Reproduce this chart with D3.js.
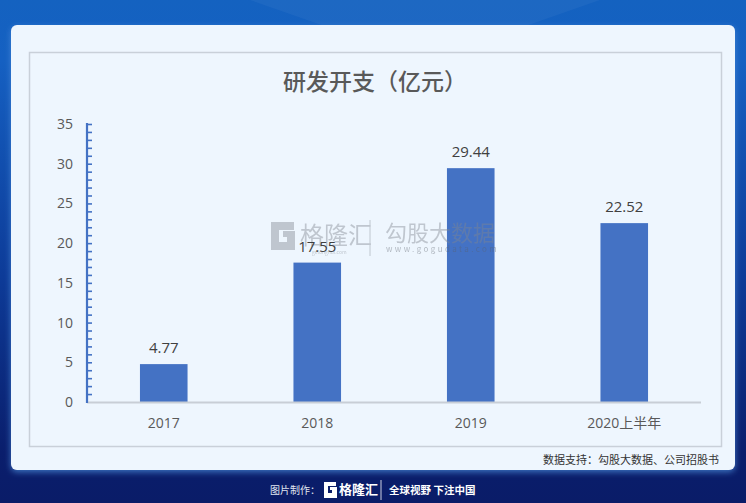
<!DOCTYPE html>
<html><head><meta charset="utf-8">
<script src="https://cdn.jsdelivr.net/npm/d3@7/dist/d3.min.js"></script>
<style>
html,body{margin:0;padding:0;overflow:hidden;background:#0b2a80;}
svg{display:block;font-family:"Noto Sans CJK SC","Noto Sans",sans-serif;}
</style></head>
<body>
<script>
const categories = ["2017", "2018", "2019", "2020上半年"];
const values = [4.77, 17.55, 29.44, 22.52];
const valueLabels = ["4.77", "17.55", "29.44", "22.52"];
const yTicks = [0, 5, 10, 15, 20, 25, 30, 35];
const titleText = "研发开支（亿元）";
const sourceText = "数据支持：勾股大数据、公司招股书";

const W = 746, H = 503;
const svg = d3.select("body").append("svg").attr("width", W).attr("height", H);
const defs = svg.append("defs");

const bg = defs.append("linearGradient").attr("id","bg").attr("x1",0).attr("y1",0).attr("x2",0).attr("y2",1);
bg.append("stop").attr("offset","0%").attr("stop-color","#1462c0");
bg.append("stop").attr("offset","12%").attr("stop-color","#1560c2");
bg.append("stop").attr("offset","55%").attr("stop-color","#0d3b98");
bg.append("stop").attr("offset","90%").attr("stop-color","#0a1e6c");
bg.append("stop").attr("offset","100%").attr("stop-color","#0a1c68");
svg.append("rect").attr("width",W).attr("height",H).attr("fill","url(#bg)");

svg.append("path").attr("d","M250,0 L330,28 L520,28 L600,0 Z").attr("fill","#ffffff").attr("opacity",0.04);

const sh = defs.append("filter").attr("id","sh").attr("x","-5%").attr("y","-5%").attr("width","110%").attr("height","115%");
sh.append("feDropShadow").attr("dx",0).attr("dy",2).attr("stdDeviation",3).attr("flood-color","#4b8ad8").attr("flood-opacity",0.8);

// card
svg.append("rect").attr("x",11).attr("y",25).attr("width",724).attr("height",445).attr("rx",6)
  .attr("fill","#eef6fe").attr("filter","url(#sh)");
// inner frame
svg.append("rect").attr("x",29.5).attr("y",52.5).attr("width",692).attr("height",394)
  .attr("fill","#eef6fe").attr("stroke","#c9d0d9").attr("stroke-width",1.5);

// title
svg.append("text").attr("x",375).attr("y",90).attr("text-anchor","middle")
  .attr("font-size",23).attr("font-weight",500).attr("fill","#595959").text(titleText);

const margin = {left:87, right:701, top:124, bottom:402};
const x = d3.scaleBand().domain(categories).range([margin.left, margin.right]).paddingInner(0.69).paddingOuter(0.345);
const y = d3.scaleLinear().domain([0,35]).range([margin.bottom, margin.top]);

// bars
svg.append("g").selectAll("rect").data(values).join("rect")
  .attr("x",(d,i)=>x(categories[i])).attr("width",x.bandwidth())
  .attr("y",d=>y(d)).attr("height",d=>y(0)-y(d)).attr("fill","#4472c4");

// x axis line
svg.append("line").attr("x1",margin.left).attr("x2",margin.right).attr("y1",y(0)+0.5).attr("y2",y(0)+0.5)
  .attr("stroke","#c8ced6").attr("stroke-width",1.8);

// watermark (semi-transparent, above bars)
const wm = svg.append("g").attr("opacity",0.42);
const wc = "#80868f";
wm.append("path").attr("d","M271,222 h23 v8 h-15 v12 h8 v-5 h-4 v-6 h12 v19 h-24 z").attr("fill",wc);
wm.append("text").attr("x",300).attr("y",244).attr("font-size",24).attr("fill",wc).text("格隆汇");
wm.append("text").attr("x",312).attr("y",254).attr("font-size",5).attr("fill",wc).text("gelonghui.com");
wm.append("line").attr("x1",370).attr("x2",370).attr("y1",220).attr("y2",256).attr("stroke",wc).attr("stroke-width",1);
wm.append("text").attr("x",385).attr("y",241).attr("font-size",22).attr("fill",wc).text("勾股大数据");
wm.append("text").attr("x",386).attr("y",252).attr("font-size",8).attr("letter-spacing",2.4).attr("fill","#5a6069").text("www.gogudata.com");

// value labels
svg.append("g").selectAll("text").data(values).join("text")
  .attr("x",(d,i)=>x(categories[i])+x.bandwidth()/2).attr("y",d=>y(d)-11)
  .attr("text-anchor","middle").attr("font-size",15).attr("fill","#404040")
  .attr("font-family","'Open Sans','Noto Sans',sans-serif")
  .text((d,i)=>valueLabels[i]);

// x labels
const xa = svg.append("g").attr("transform",`translate(0,${y(0)})`)
  .call(d3.axisBottom(x).tickSize(0).tickPadding(16));
xa.select(".domain").remove();
xa.selectAll("text").attr("font-size",14).attr("fill","#595959")
  .attr("font-family","'Open Sans','Noto Sans CJK SC',sans-serif");

// y axis: minor ticks every 1 unit
const ya = svg.append("g").attr("transform",`translate(${margin.left},0)`)
  .call(d3.axisRight(y).tickValues(d3.range(1,36)).tickSize(5).tickFormat(""));
ya.select(".domain").remove();
ya.selectAll(".tick line").attr("stroke","#4472c4").attr("stroke-width",1.6);
svg.append("line").attr("x1",margin.left).attr("x2",margin.left).attr("y1",y(35)-1).attr("y2",y(0)+1)
  .attr("stroke","#4472c4").attr("stroke-width",2.2);

// y labels
const yl = svg.append("g").attr("transform",`translate(${margin.left-14},0)`)
  .call(d3.axisLeft(y).tickValues(yTicks).tickSize(0).tickPadding(0));
yl.select(".domain").remove();
yl.selectAll("text").attr("font-size",14).attr("fill","#595959")
  .attr("font-family","'Open Sans','Noto Sans',sans-serif");

// source
svg.append("text").attr("x",719).attr("y",464).attr("text-anchor","end")
  .attr("font-size",11).attr("fill","#333").text(sourceText);

// footer
const ft = svg.append("g").attr("fill","#ffffff");
ft.append("text").attr("x",270).attr("y",494).attr("font-size",10).attr("fill","#e0e6f0").text("图片制作：");
ft.append("path").attr("d","M324,482 h12 v4 h-8 v7 h4 v-3 h-2 v-3 h7 v11 h-13 z").attr("fill","#ffffff");
ft.append("text").attr("x",339).attr("y",494).attr("font-size",13).attr("font-weight",700).text("格隆汇");
ft.append("line").attr("x1",381).attr("x2",381).attr("y1",480).attr("y2",500).attr("stroke","#ffffff").attr("stroke-width",0.8);
ft.append("text").attr("x",389).attr("y",494).attr("font-size",10.5).attr("font-weight",700).text("全球视野 下注中国");
</script>
</body></html>
